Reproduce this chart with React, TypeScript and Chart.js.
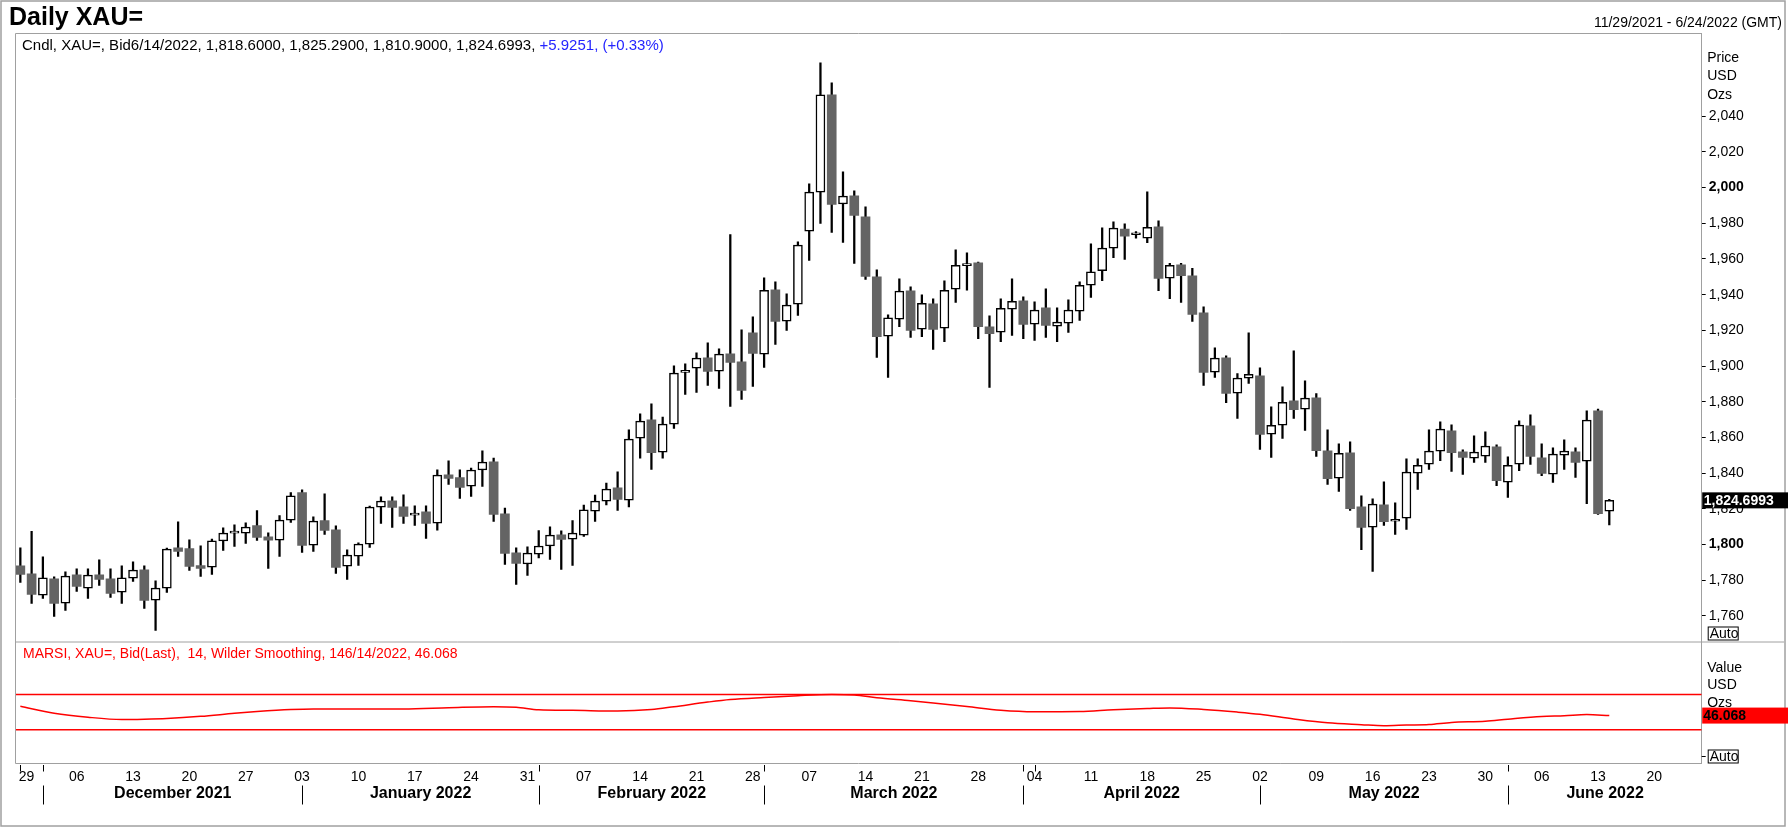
import React, { useEffect, useRef } from "react";
import { Chart, registerables } from "chart.js";
Chart.register(...registerables);

const FONT = '"Liberation Sans", Arial, Helvetica, sans-serif';
const GRAY = "#a0a0a0";
const DOWN = "#646464";

// daily XAU= candles, weekday index 0 = 11/29/2021, last = 6/14/2022
const opens = [
  1788.0, 1783.5, 1771.6, 1780.7, 1767.1, 1783.0, 1775.5, 1783.0, 1780.7, 1773.3,
  1781.1, 1785.8, 1768.8, 1775.5, 1798.1, 1797.6, 1788.2, 1787.3, 1801.9, 1806.3,
  1806.3, 1810.5, 1804.3, 1802.4, 1813.6, 1829.0, 1799.6, 1813.3, 1808.2, 1787.8,
  1793.4, 1800.2, 1820.9, 1824.5, 1821.1, 1816.4, 1818.3, 1811.9, 1839.0, 1837.4,
  1832.7, 1841.7, 1846.3, 1817.2, 1795.3, 1789.0, 1794.6, 1799.1, 1805.4, 1803.0,
  1805.2, 1818.7, 1824.3, 1831.7, 1824.8, 1859.6, 1869.9, 1851.7, 1867.4, 1896.4,
  1898.8, 1904.6, 1897.1, 1906.9, 1902.4, 1918.6, 1906.7, 1942.7, 1925.2, 1934.7,
  1975.6, 1997.5, 2052.0, 1990.8, 1995.4, 1983.7, 1950.0, 1916.7, 1926.3, 1942.1,
  1920.7, 1934.9, 1921.2, 1943.1, 1956.3, 1957.8, 1922.0, 1919.0, 1931.9, 1936.5,
  1923.5, 1932.6, 1922.3, 1924.0, 1930.7, 1945.3, 1953.4, 1966.1, 1976.7, 1973.6,
  1971.7, 1978.0, 1949.2, 1956.7, 1950.5, 1929.8, 1896.6, 1904.6, 1884.8, 1893.2,
  1894.5, 1861.8, 1866.8, 1880.5, 1875.8, 1882.2, 1852.5, 1837.1, 1851.3, 1821.1,
  1809.7, 1822.2, 1813.0, 1814.7, 1839.9, 1845.0, 1852.3, 1863.7, 1851.9, 1848.4,
  1849.5, 1854.7, 1834.9, 1845.0, 1866.5, 1848.5, 1839.4, 1850.0, 1851.9, 1846.7,
  1874.9, 1818.6,
];
const highs = [
  1798.1, 1807.3, 1793.1, 1781.9, 1784.7, 1786.3, 1786.3, 1791.4, 1786.3, 1788.0,
  1790.3, 1788.0, 1779.6, 1797.9, 1812.7, 1802.6, 1799.2, 1803.0, 1809.3, 1811.0,
  1812.1, 1818.9, 1806.5, 1816.1, 1829.1, 1830.6, 1815.5, 1828.4, 1810.4, 1797.0,
  1800.9, 1821.5, 1826.7, 1826.7, 1827.8, 1821.7, 1821.7, 1841.8, 1846.9, 1841.8,
  1842.8, 1852.5, 1848.4, 1820.4, 1798.1, 1798.7, 1807.8, 1809.9, 1807.6, 1813.4,
  1822.0, 1827.6, 1834.4, 1840.7, 1864.3, 1873.2, 1878.8, 1871.4, 1900.1, 1901.3,
  1907.4, 1913.0, 1909.7, 1973.7, 1920.3, 1927.6, 1949.5, 1947.2, 1940.5, 1969.6,
  2002.1, 2070.0, 2058.8, 2008.9, 1998.2, 1989.3, 1953.9, 1928.7, 1948.9, 1944.4,
  1939.9, 1937.7, 1947.7, 1965.1, 1963.4, 1958.3, 1928.1, 1937.7, 1948.9, 1938.8,
  1936.0, 1943.3, 1932.6, 1937.1, 1947.2, 1968.5, 1977.5, 1980.8, 1979.7, 1975.4,
  1997.6, 1981.4, 1957.5, 1957.5, 1954.8, 1933.2, 1910.2, 1905.7, 1895.8, 1918.6,
  1899.0, 1877.1, 1888.3, 1908.5, 1891.7, 1884.6, 1864.2, 1856.4, 1857.5, 1827.2,
  1825.5, 1835.1, 1823.3, 1848.0, 1848.0, 1864.2, 1868.7, 1867.0, 1853.0, 1860.9,
  1863.1, 1855.8, 1849.1, 1869.3, 1872.6, 1856.4, 1854.2, 1858.6, 1854.2, 1874.9,
  1875.8, 1825.29,
];
const lows = [
  1778.7, 1766.9, 1769.7, 1759.6, 1763.0, 1773.6, 1769.7, 1777.0, 1770.3, 1766.9,
  1779.2, 1764.1, 1751.8, 1773.1, 1793.3, 1785.4, 1782.1, 1783.2, 1796.6, 1798.9,
  1800.5, 1802.2, 1786.5, 1793.3, 1812.3, 1795.5, 1796.1, 1805.6, 1783.7, 1780.4,
  1788.2, 1798.3, 1811.8, 1809.5, 1811.8, 1810.6, 1803.3, 1808.0, 1833.6, 1825.8,
  1826.9, 1832.5, 1812.9, 1788.8, 1777.6, 1782.6, 1792.5, 1791.6, 1786.0, 1788.2,
  1804.5, 1812.9, 1822.2, 1819.0, 1821.0, 1848.4, 1842.0, 1848.4, 1865.0, 1884.1,
  1885.2, 1889.1, 1887.4, 1877.3, 1881.3, 1888.5, 1899.2, 1912.1, 1919.9, 1928.3,
  1959.2, 1979.9, 1974.9, 1969.3, 1957.5, 1948.5, 1904.8, 1893.6, 1922.1, 1916.0,
  1916.5, 1909.3, 1913.7, 1935.6, 1942.5, 1915.4, 1888.0, 1913.7, 1917.1, 1915.4,
  1914.3, 1916.0, 1913.7, 1918.8, 1925.5, 1938.4, 1947.9, 1960.8, 1959.7, 1971.7,
  1969.2, 1942.3, 1937.8, 1935.6, 1925.0, 1889.1, 1893.6, 1879.5, 1870.6, 1890.2,
  1853.2, 1848.7, 1859.4, 1870.6, 1863.9, 1849.3, 1833.6, 1829.7, 1819.0, 1797.1,
  1784.8, 1810.6, 1805.6, 1808.4, 1830.8, 1842.0, 1847.0, 1840.9, 1839.2, 1845.9,
  1845.9, 1833.0, 1826.3, 1841.4, 1844.8, 1838.6, 1834.7, 1842.0, 1837.5, 1822.9,
  1816.8, 1810.9,
];
const closes = [
  1783.2, 1772.0, 1781.3, 1766.9, 1782.2, 1776.4, 1782.8, 1780.4, 1772.5, 1781.3,
  1785.6, 1768.6, 1775.5, 1797.4, 1796.1, 1787.6, 1786.5, 1802.0, 1806.3, 1807.1,
  1809.7, 1803.9, 1802.4, 1813.6, 1827.3, 1799.4, 1813.1, 1807.8, 1787.1, 1794.0,
  1800.2, 1820.9, 1824.3, 1820.7, 1815.7, 1817.5, 1811.8, 1838.8, 1837.0, 1831.9,
  1841.7, 1846.1, 1816.8, 1794.9, 1789.3, 1795.1, 1799.1, 1805.2, 1802.8, 1806.3,
  1819.4, 1824.3, 1831.0, 1825.2, 1859.0, 1869.1, 1851.5, 1867.4, 1896.0, 1897.1,
  1904.4, 1897.0, 1906.7, 1902.0, 1886.3, 1907.0, 1942.5, 1925.0, 1934.1, 1967.8,
  1997.5, 2052.0, 1990.6, 1995.2, 1984.4, 1950.2, 1916.5, 1927.0, 1942.0, 1919.9,
  1935.2, 1920.5, 1942.5, 1956.5, 1956.5, 1922.1, 1918.2, 1932.4, 1936.3, 1923.3,
  1931.3, 1922.7, 1924.6, 1931.3, 1945.3, 1952.8, 1966.1, 1977.3, 1972.8, 1974.0,
  1977.8, 1949.1, 1956.5, 1950.7, 1928.9, 1896.4, 1904.4, 1884.6, 1893.2, 1895.4,
  1861.6, 1866.8, 1879.7, 1875.6, 1882.0, 1852.6, 1836.9, 1851.1, 1820.1, 1809.5,
  1822.6, 1812.8, 1814.1, 1840.5, 1844.4, 1852.3, 1864.6, 1851.5, 1848.7, 1851.7,
  1855.1, 1835.8, 1844.4, 1866.9, 1849.3, 1839.8, 1850.6, 1852.3, 1845.9, 1869.7,
  1817.3, 1824.6993,
];

// RSI (weekday index, value)
const rsiIdx = [
  0, 3, 6, 9, 11, 13, 16, 19, 21, 24, 26, 29, 34, 38, 42, 44, 46, 49, 53, 56,
  58, 61, 63, 66, 69, 72, 74, 76, 79, 81, 84, 87, 90, 94, 97, 100, 102, 105, 108, 110,
  113, 116, 119, 121, 123, 125, 127, 130, 132, 135, 137, 139, 141,
];
const rsiVal = [
  56.7, 48.8, 44.2, 41.6, 42.0, 42.8, 45.2, 48.6, 50.6, 52.9, 53.6, 53.6, 53.6, 55.0, 56.2, 55.5, 52.6, 52.0, 51.3, 53.0,
  56.2, 61.4, 64.3, 66.7, 68.7, 70.0, 69.4, 66.4, 63.0, 60.5, 56.4, 52.1, 50.4, 50.7, 52.7, 54.1, 54.8, 53.0, 50.0, 47.5,
  42.2, 37.8, 35.7, 34.5, 35.3, 36.0, 38.3, 39.6, 42.0, 45.1, 45.9, 47.2, 46.068,
];
const rsiLevels = [70, 30];

// price axis labels
const priceTicks = [
  1760, 1780, 1800, 1820, 1840, 1860, 1880, 1900, 1920, 1940, 1960, 1980, 2000, 2020, 2040,
];

// x axis: Monday labels, month starts
const dayTickIdx = [
  0, 5, 10, 15, 20, 25, 30, 35, 40, 45, 50, 55, 60, 65, 70,
  75, 80, 85, 90, 95, 100, 105, 110, 115, 120, 125, 130, 135, 140, 145,
];
const dayTickLabels = [
  "29", "06", "13", "20", "27", "03", "10", "17", "24", "31", "07", "14", "21", "28", "07",
  "14", "21", "28", "04", "11", "18", "25", "02", "09", "16", "23", "30", "06", "13", "20",
];
const monthStartIdx = [2, 25, 46, 66, 89, 110, 132];
const monthNames = [
  "December 2021", "January 2022", "February 2022", "March 2022", "April 2022", "May 2022", "June 2022",
];
const edgeTickIdx = [0, 2, 46, 66, 89, 90, 132];

const title = "Daily XAU=";
const dateRange = "11/29/2021 - 6/24/2022 (GMT)";
const lastDate = "6/14/2022";
const lastChange = "+5.9251, (+0.33%)";
const rsiText = "MARSI, XAU=, Bid(Last),  14, Wilder Smoothing, 146/14/2022, ";

const X_MIN = -0.43;
const X_MAX = 149.2;
const P_MIN = 1745.3;
const P_MAX = 2086.4;
const R_MIN = -8.4;
const R_MAX = 129.7;
const AXIS_W = 86.3;

const fmt4 = (v: number) =>
  v.toLocaleString("en-US", { minimumFractionDigits: 4, maximumFractionDigits: 4 });

const hline = (ctx: CanvasRenderingContext2D, x1: number, x2: number, y: number) => {
  ctx.beginPath();
  ctx.moveTo(x1, y);
  ctx.lineTo(x2, y);
  ctx.stroke();
};
const vline = (ctx: CanvasRenderingContext2D, x: number, y1: number, y2: number) => {
  ctx.beginPath();
  ctx.moveTo(x, y1);
  ctx.lineTo(x, y2);
  ctx.stroke();
};

const decor = {
  id: "decor",
  beforeDraw(chart: any) {
    const { ctx, width, height } = chart;
    ctx.save();
    ctx.fillStyle = "#fff";
    ctx.fillRect(0, 0, width, height);
    ctx.restore();
  },
  afterDraw(chart: any) {
    const { ctx, width } = chart;
    const xs = chart.scales.x;
    const ys = chart.scales.y;
    const rs = chart.scales.y2;
    const L = chart.chartArea.left;
    const R = chart.chartArea.right;
    const T = ys.top;
    const M = ys.bottom;
    const B = rs.bottom;
    const last = closes.length - 1;

    ctx.save();
    // outer border and panel frames
    ctx.strokeStyle = GRAY;
    ctx.lineWidth = 1.5;
    ctx.strokeRect(1, 1, 1784, 825);
    ctx.lineWidth = 1;
    hline(ctx, L, R, T);
    vline(ctx, L, T, B);
    hline(ctx, L, R, B);
    hline(ctx, L, 1784, M);

    // header texts
    ctx.fillStyle = "#000";
    ctx.textAlign = "left";
    ctx.textBaseline = "alphabetic";
    ctx.font = `bold 25px ${FONT}`;
    ctx.fillText(title, 9, 25);
    ctx.font = `14px ${FONT}`;
    ctx.textAlign = "right";
    ctx.fillText(dateRange, 1782, 27);
    ctx.textAlign = "left";
    ctx.font = `15px ${FONT}`;
    const info = `Cndl, XAU=, Bid${lastDate}, ${fmt4(opens[last])}, ${fmt4(highs[last])}, ${fmt4(lows[last])}, ${fmt4(closes[last])}, `;
    ctx.fillText(info, L + 6.5, 50);
    ctx.fillStyle = "#2424ff";
    ctx.fillText(lastChange, L + 6.5 + ctx.measureText(info).width, 50);

    // price axis captions
    ctx.font = `14px ${FONT}`;
    ctx.fillStyle = "#000";
    ctx.textBaseline = "middle";
    ["Price", "USD", "Ozs"].forEach((s, i) => ctx.fillText(s, R + 5.5, T + 24.5 + i * 18.5));

    // last price tag
    const py = ys.getPixelForValue(closes[last]);
    ctx.fillStyle = "#000";
    ctx.fillRect(R + 0.5, py - 8, width - R, 16);
    ctx.fillStyle = "#fff";
    ctx.font = `bold 14px ${FONT}`;
    ctx.fillText(fmt4(closes[last]), R + 2, py + 0.5);

    // Auto boxes
    const autoBox = (top: number) => {
      ctx.fillStyle = "#fff";
      ctx.fillRect(R + 6, top, 31, 14);
      ctx.strokeStyle = "#000";
      ctx.lineWidth = 1;
      ctx.strokeRect(R + 6.5, top + 0.5, 30, 13);
      ctx.fillStyle = "#000";
      ctx.font = `14px ${FONT}`;
      ctx.fillText("Auto", R + 8, top + 7.5);
    };
    autoBox(M - 15.5);
    autoBox(B - 14);
    ctx.strokeStyle = "#000";
    hline(ctx, R, R + 4, B - 7);

    // RSI captions and value box
    const rsiLast = rsiVal[rsiVal.length - 1];
    ctx.fillStyle = "#ff0000";
    ctx.textBaseline = "alphabetic";
    ctx.font = `14px ${FONT}`;
    ctx.fillText(rsiText + rsiLast.toFixed(3), L + 7.5, M + 16);
    ctx.fillStyle = "#000";
    ctx.textBaseline = "middle";
    ["Value", "USD", "Ozs"].forEach((s, i) => ctx.fillText(s, R + 5.5, M + 26 + i * 17.5));
    const ry = rs.getPixelForValue(rsiLast);
    ctx.fillStyle = "#ff0000";
    ctx.fillRect(R + 0.5, ry - 8, width - R, 16);
    ctx.fillStyle = "#000";
    ctx.font = `bold 14px ${FONT}`;
    ctx.fillText(rsiLast.toFixed(3), R + 1.5, ry + 0.5);

    // time axis
    ctx.strokeStyle = "#000";
    ctx.lineWidth = 1;
    edgeTickIdx.forEach((d) => {
      const px = Math.round(xs.getPixelForValue(d)) + 0.5;
      vline(ctx, px, B + 1.5, B + 8);
    });
    ctx.font = `14px ${FONT}`;
    ctx.textAlign = "center";
    dayTickIdx.forEach((d, i) => {
      const px = Math.max(xs.getPixelForValue(d), L + 11);
      ctx.fillText(dayTickLabels[i], px, B + 13.5);
    });
    ctx.font = `bold 16px ${FONT}`;
    monthStartIdx.forEach((d, i) => {
      const px = Math.round(xs.getPixelForValue(d)) + 0.5;
      vline(ctx, px, B + 22, B + 41);
      const next = i + 1 < monthStartIdx.length ? xs.getPixelForValue(monthStartIdx[i + 1]) : R;
      ctx.fillText(monthNames[i], (px + next) / 2, B + 30.5);
    });
    ctx.restore();
  },
};

export default function App() {
  const ref = useRef<HTMLCanvasElement>(null);

  useEffect(() => {
    const up = (i: number) => closes[i] >= opens[i];
    const chart = new Chart(ref.current!, {
      type: "bar",
      data: {
        datasets: [
          {
            label: "body",
            data: opens.map((o, i) => ({ x: i, y: [o, closes[i]] })) as any,
            yAxisID: "y",
            grouped: false,
            barThickness: 9,
            minBarLength: 2,
            borderSkipped: false,
            backgroundColor: (c: any) => (up(c.dataIndex) ? "#ffffff" : DOWN),
            borderColor: (c: any) => (up(c.dataIndex) ? "#000000" : DOWN),
            borderWidth: (c: any) => (up(c.dataIndex) ? 1.5 : 0),
          },
          {
            label: "wick",
            data: lows.map((l, i) => ({ x: i, y: [l, highs[i]] })) as any,
            yAxisID: "y",
            grouped: false,
            barThickness: 1.6,
            backgroundColor: "#000000",
            borderWidth: 0,
          },
          {
            type: "line",
            label: "RSI",
            data: rsiIdx.map((d, i) => ({ x: d, y: rsiVal[i] })),
            yAxisID: "y2",
            borderColor: "#ff0000",
            borderWidth: 1.5,
            pointRadius: 0,
            cubicInterpolationMode: "monotone",
          },
          ...rsiLevels.map((v) => ({
            type: "line" as const,
            label: String(v),
            data: [
              { x: X_MIN, y: v },
              { x: X_MAX, y: v },
            ],
            yAxisID: "y2",
            borderColor: "#ff0000",
            borderWidth: 1.5,
            pointRadius: 0,
          })),
        ] as any,
      },
      options: {
        animation: false,
        responsive: false,
        events: [],
        layout: { padding: { left: 15.5, top: 33.5, right: 0, bottom: 63.5 } },
        plugins: { legend: { display: false }, tooltip: { enabled: false } },
        scales: {
          x: { type: "linear", min: X_MIN, max: X_MAX, bounds: "data", display: false, offset: false },
          y: {
            type: "linear",
            position: "right",
            stack: "panels",
            stackWeight: 608.5,
            min: P_MIN,
            max: P_MAX,
            bounds: "data",
            afterFit: (s: any) => {
              s.width = AXIS_W;
            },
            afterBuildTicks: (s: any) => {
              s.ticks = priceTicks.map((v) => ({ value: v }));
            },
            grid: { drawOnChartArea: false, tickLength: 4, color: "#000" },
            border: { color: GRAY },
            ticks: {
              autoSkip: false,
              padding: 3,
              color: "#000",
              font: (c: any) => ({
                family: FONT,
                size: 14,
                weight: c.tick && c.tick.value % 200 === 0 ? "bold" : "normal",
              }),
              callback: (v: any) => Number(v).toLocaleString("en-US"),
            },
          },
          y2: {
            type: "linear",
            position: "right",
            stack: "panels",
            stackWeight: 121.5,
            min: R_MIN,
            max: R_MAX,
            bounds: "data",
            afterFit: (s: any) => {
              s.width = AXIS_W;
            },
            grid: { display: false },
            border: { color: GRAY },
            ticks: { display: false },
          },
        },
      } as any,
      plugins: [decor],
    });
    return () => {
      chart.destroy();
    };
  }, []);

  return (
    <div style={{ position: "fixed", left: 0, top: 0, width: 1788, height: 827, background: "#fff" }}>
      <canvas ref={ref} width={1788} height={827} style={{ display: "block" }}></canvas>
    </div>
  );
}
